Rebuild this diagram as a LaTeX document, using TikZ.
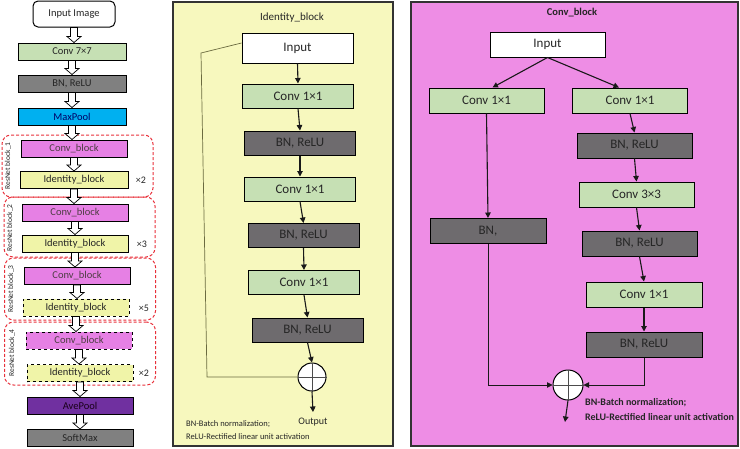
\documentclass[tikz,border=0pt]{standalone}
\usepackage{fontspec}
\setmainfont{Carlito}
\usetikzlibrary{arrows.meta,calc}
\definecolor{cgreen}{HTML}{C6E0B4}
\definecolor{cgray}{HTML}{808080}
\definecolor{cdgray}{HTML}{6E6B6E}
\definecolor{ccyan}{HTML}{00B0F0}
\definecolor{cviolet}{HTML}{E680E4}
\definecolor{cyel}{HTML}{F0F4A8}
\definecolor{cpurple}{HTML}{7030A0}
\definecolor{panelY}{HTML}{F7F8BE}
\definecolor{panelP}{HTML}{EE8DE5}
\definecolor{cred}{HTML}{E8303A}
\definecolor{skipc}{HTML}{6B6B40}
\tikzset{
  box/.style={draw=black, line width=1pt, inner sep=0pt, text=black!85},
  lbox/.style={box, minimum width=106pt, minimum height=17pt, font=\fontsize{10.5}{11}\selectfont},
  bbox/.style={box, minimum width=111pt, minimum height=24pt, font=\fontsize{13}{14}\selectfont},
  redbox/.style={draw=cred, line width=1pt, dash pattern=on 3pt off 2pt, rounded corners=9pt, minimum width=151pt, inner sep=0pt},
  rlab/.style={rotate=90, font=\fontsize{7.5}{8}\selectfont, text=black!85},
  times/.style={font=\fontsize{10}{11}\selectfont, text=black!85},
  hollowarrow/.style={draw=black, fill=white, line width=0.7pt, to path={let \p1=(\tikztostart), \p2=(\tikztotarget) in
     (\x1-3.5pt,\y1) -- (\x1+3.5pt,\y1) -- (\x1+3.5pt,\y2+6pt) -- (\x1+7pt,\y2+6pt) -- (\x1,\y2) -- (\x1-7pt,\y2+6pt) -- (\x1-3.5pt,\y2+6pt) -- cycle}},
  arr/.style={draw=black!90, line width=1.1pt, -{Triangle[length=5.5pt,width=5.5pt]}},
  sumc/.style={circle, draw=black, fill=white, line width=1pt, minimum size=28pt, inner sep=0pt},
  panel/.style={draw=black!80, line width=1.2pt, inner sep=0pt},
  legend/.style={anchor=west, inner sep=0pt, text=black!85},
}
\begin{document}
\begin{tikzpicture}[x=1pt,y=-1pt]
\useasboundingbox (0,0) rectangle (740,448);
% ---------------- left column
\node[box, rounded corners=5pt, fill=white, minimum width=82pt, minimum height=26pt, font=\fontsize{10.5}{11}\selectfont] (ii) at (74,14) {Input Image};
\node[lbox, minimum width=108pt, fill=cgreen] (c7) at (72,51.5) {Conv 7×7};
\node[lbox, minimum width=108pt, fill=cgray] (bn0) at (72,83.5) {BN, ReLU};
\node[lbox, minimum width=108pt, fill=ccyan, text=blue!40!black] (mp) at (72,116.5) {MaxPool};

\node[redbox, minimum height=62pt] (rb1) at (77.5,166) {};
\node[redbox, minimum height=60pt] (rb2) at (79.5,227) {};
\node[redbox, minimum height=62pt] (rb3) at (80,289) {};
\node[redbox, minimum height=63pt] (rb4) at (80,353.5) {};
\node[rlab] (l1) at (8,166) {ResNet block\_1};
\node[rlab] (l2) at (10,228) {ResNet block\_2};
\node[rlab] (l3) at (11,289) {ResNet block\_3};
\node[rlab] (l4) at (12,353) {ResNet block\_4};

\node[lbox, fill=cviolet, text=black!80!magenta] (cb1) at (74,148.5) {Conv\_block};
\node[lbox, minimum width=108pt, fill=cyel] (ib1) at (74,180) {Identity\_block};
\node[times] (x1) at (141,180) {×2};
\node[lbox, fill=cviolet, text=black!80!magenta] (cb2) at (75,212.5) {Conv\_block};
\node[lbox, fill=cyel] (ib2) at (75,243.5) {Identity\_block};
\node[times] (x2) at (142,244) {×3};
\node[lbox, fill=cviolet, text=black!80!magenta] (cb3) at (77,276) {Conv\_block};
\node[lbox, fill=cyel, dashed] (ib3) at (76,307.5) {Identity\_block};
\node[times] (x3) at (144,308) {×5};
\node[lbox, fill=cviolet, dashed, text=black!80!magenta] (cb4) at (79,340.5) {Conv\_block};
\node[lbox, fill=cyel, dashed] (ib4) at (80,373) {Identity\_block};
\node[times] (x4) at (144,373) {×2};
\node[lbox, fill=cpurple, text=black!80!violet] (ap) at (80,405.5) {AvePool};
\node[lbox, fill=cgray] (sm) at (80,438) {SoftMax};

\draw[hollowarrow] (ii.south) to (c7.north);
\draw[hollowarrow] (c7.south) to (bn0.north);
\draw[hollowarrow] (bn0.south) to (mp.north);
\draw[hollowarrow] (mp.south) to (cb1.north);
\draw[hollowarrow] (cb1.south) to (ib1.north);
\draw[hollowarrow] (ib1.south) to (cb2.north);
\draw[hollowarrow] (cb2.south) to (ib2.north);
\draw[hollowarrow] (ib2.south) to (cb3.north);
\draw[hollowarrow] (cb3.south) to (ib3.north);
\draw[hollowarrow] (ib3.south) to (cb4.north);
\draw[hollowarrow] (cb4.south) to (ib4.north);
\draw[hollowarrow] (ib4.south) to (ap.north);
\draw[hollowarrow] (ap.south) to (sm.north);

% ---------------- identity block panel
\node[panel, fill=panelY, minimum width=220pt, minimum height=444pt] (p1) at (283,224) {};
\node[font=\fontsize{11}{12}\selectfont, text=black!85] (t1) at (292,18) {Identity\_block};
\node[bbox, fill=white] (in1) at (297.5,48) [minimum height=30pt] {Input};
\node[bbox, fill=cgreen] (a1) at (298,96) {Conv 1×1};
\node[bbox, fill=cdgray] (a2) at (300,143) {BN, ReLU};
\node[bbox, fill=cgreen] (a3) at (300,189) {Conv 1×1};
\node[bbox, fill=cdgray] (a4) at (303.5,235.5) {BN, ReLU};
\node[bbox, fill=cgreen] (a5) at (304,282.5) {Conv 1×1};
\node[bbox, fill=cdgray] (a6) at (307.5,330) {BN, ReLU};
\node[sumc] (s1) at (312,377) {};
\draw[line width=0.5pt, black!70] (s1.north) -- (s1.south) (s1.west) -- (s1.east);
\coordinate (o1) at (313,412);
\node[font=\fontsize{10}{11}\selectfont, text=black!85] (ot) at (313,422) {Output};
\draw[arr] (in1.south) -- (a1.north);
\draw[arr] (a1.south) -- (a2.north);
\draw[arr] (a2.south) -- (a3.north);
\draw[arr] (a3.south) -- (a4.north);
\draw[arr] (a4.south) -- (a5.north);
\draw[arr] (a5.south) -- (a6.north);
\draw[arr] (a6.south) -- (s1.north);
\draw[arr] (s1.south) -- (o1);
\coordinate (k1) at (201,53);
\coordinate (k2) at (207,377);
\draw[skipc, line width=0.7pt] ([yshift=5pt]in1.west) -- (k1) -- (k2) -- (s1.west);
\node[legend, font=\fontsize{8.5}{9}\selectfont] (g1) at (186,424) {BN-Batch normalization;};
\node[legend, font=\fontsize{8.5}{9}\selectfont] (g2) at (186,437) {ReLU-Rectified linear unit activation};

% ---------------- conv block panel
\node[panel, fill=panelP, minimum width=327pt, minimum height=444pt] (p2) at (574.5,224) {};
\node[font=\bfseries\fontsize{10.5}{11}\selectfont, text=black!85] (t2) at (572,13) {Conv\_block};
\node[bbox, fill=white, minimum width=115pt, minimum height=25pt] (in2) at (547.5,44.5) {Input};
\node[bbox, fill=cgreen, minimum width=115pt, minimum height=25pt] (lc) at (486.5,100.5) {Conv 1×1};
\node[bbox, fill=cdgray, minimum width=116pt, minimum height=25pt] (lb) at (488,231) {BN,};
\node[bbox, fill=cgreen, minimum width=115pt, minimum height=25pt] (r1) at (630,100.5) {Conv 1×1};
\node[bbox, fill=cdgray, minimum width=115pt, minimum height=25pt] (r2) at (634.5,145.5) {BN, ReLU};
\node[bbox, fill=cgreen, minimum width=115pt, minimum height=25pt] (r3) at (636.5,194.5) {Conv 3×3};
\node[bbox, fill=cdgray, minimum width=115pt, minimum height=25pt] (r4) at (639.5,243.5) {BN, ReLU};
\node[bbox, fill=cgreen, minimum width=116pt, minimum height=25pt] (r5) at (644,294.5) {Conv 1×1};
\node[bbox, fill=cdgray, minimum width=116pt, minimum height=25pt] (r6) at (644,344.5) {BN, ReLU};
\node[sumc, minimum size=30pt] (s2) at (568,385) {};
\draw[line width=0.5pt, black!70] (s2.north) -- (s2.south) (s2.west) -- (s2.east);
\coordinate (o2) at (565,422);
\draw[arr] (in2.south) -- ([xshift=6pt]lc.north);
\draw[arr] (in2.south) -- ([xshift=-11pt]r1.north);
\draw[arr] (lc.south) -- (lb.north);
\draw[arr] (r1.south) -- (r2.north);
\draw[arr] (r2.south) -- (r3.north);
\draw[arr] (r3.south) -- (r4.north);
\draw[arr] (r4.south) -- (r5.north);
\draw[arr] (r5.south) -- (r6.north);
\draw[arr, line width=0.8pt] (lb.south) |- (s2.west);
\draw[arr, line width=0.8pt] (r6.south) |- (s2.east);
\draw[arr] (s2.south) -- (o2);
\node[legend, font=\bfseries\fontsize{10}{11}\selectfont] (g3) at (585,403) {BN-Batch normalization;};
\node[legend, font=\bfseries\fontsize{10}{11}\selectfont] (g4) at (585,417) {ReLU-Rectified linear unit activation};
\end{tikzpicture}
\end{document}
